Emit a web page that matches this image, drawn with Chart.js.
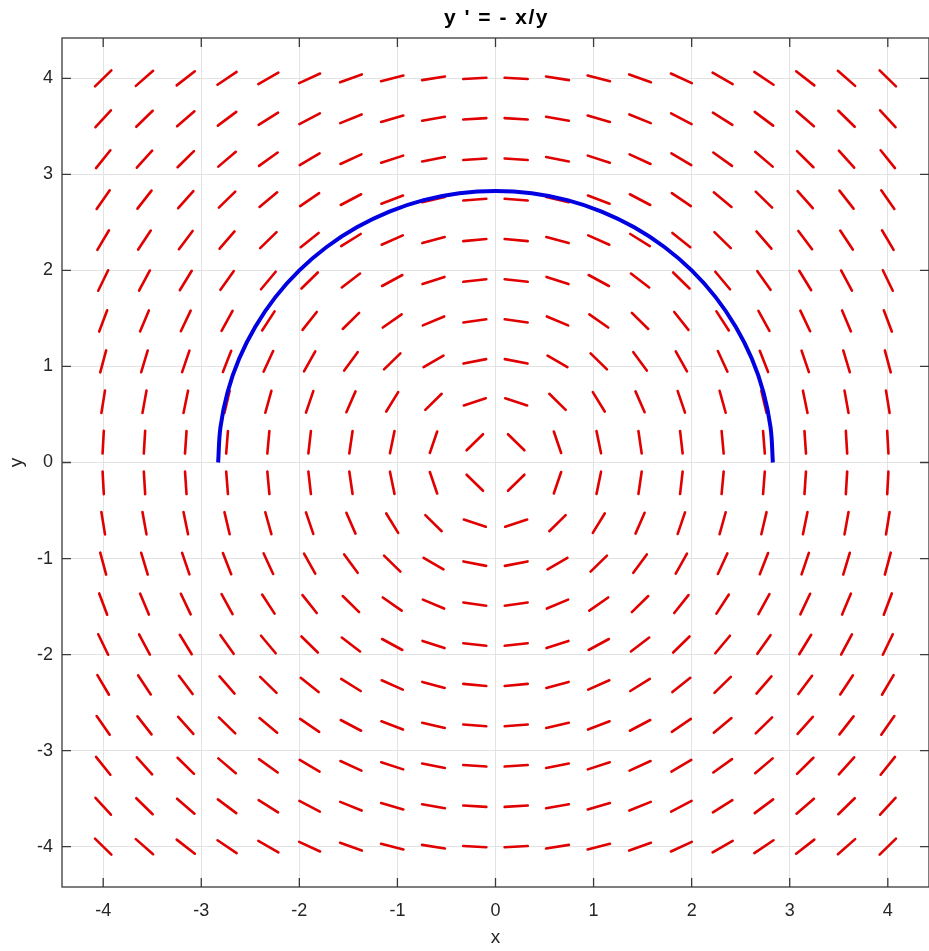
<!DOCTYPE html>
<html>
<head>
<meta charset="utf-8">
<script src="https://cdn.jsdelivr.net/npm/chart.js@4.4.1/dist/chart.umd.min.js"></script>
<style>
  html, body { margin: 0; padding: 0; background: #fff; }
  #wrap { width: 929px; height: 951px; }
</style>
</head>
<body>
<div id="wrap"><canvas id="c"></canvas></div>
<script>
// Campo de direcciones de y' = -x/y con una curva solución (semicircunferencia r = 2.83)
var TITLE = "y ' = - x/y";
var X_LABEL = "x";
var Y_LABEL = "y";

// Malla de 20 x 20 puntos donde se dibujan los segmentos
var GRID_X = [-4, -3.579, -3.158, -2.737, -2.316, -1.895, -1.474, -1.053, -0.632, -0.211,
              0.211, 0.632, 1.053, 1.474, 1.895, 2.316, 2.737, 3.158, 3.579, 4];
var GRID_Y = [-4, -3.579, -3.158, -2.737, -2.316, -1.895, -1.474, -1.053, -0.632, -0.211,
              0.211, 0.632, 1.053, 1.474, 1.895, 2.316, 2.737, 3.158, 3.579, 4];

// Curva solución (azul)
var CURVE_X = [-2.828, -2.804, -2.732, -2.613, -2.449, -2.244, -2.000, -1.722, -1.414, -1.082, -0.732, -0.369,
               0, 0.369, 0.732, 1.082, 1.414, 1.722, 2.000, 2.244, 2.449, 2.613, 2.732, 2.804, 2.828];
var CURVE_Y = [0, 0.369, 0.732, 1.082, 1.414, 1.722, 2.000, 2.244, 2.449, 2.613, 2.732, 2.804,
               2.828, 2.804, 2.732, 2.613, 2.449, 2.244, 2.000, 1.722, 1.414, 1.082, 0.732, 0.369, 0];

var TICKS = [-4, -3, -2, -1, 0, 1, 2, 3, 4];
var AXIS_MIN = -4.42;
var AXIS_MAX = 4.42;
var HALF = 0.118; // media longitud de cada segmento (unidades de datos)

function pendiente(x, y) { return -x / y; }

// Segmentos centrados en cada punto de la malla, separados por huecos (null)
var segmentos = [];
GRID_X.forEach(function (x) {
    GRID_Y.forEach(function (y) {
        var s = pendiente(x, y);
        var n = Math.sqrt(1 + s * s);
        var dx = HALF / n, dy = HALF * s / n;
        segmentos.push({ x: x - dx, y: y - dy });
        segmentos.push({ x: x + dx, y: y + dy });
        segmentos.push({ x: x, y: null });
    });
});

var curva = CURVE_X.map(function (x, i) { return { x: x, y: CURVE_Y[i] }; });

var FONT = "'Liberation Sans', Arial, Helvetica, sans-serif";
var TXT = "#262626";

// Marco, marcas hacia dentro, título y etiquetas de ejes (estilo MATLAB)
var marco = {
    id: "marco",
    afterDraw: function (chart) {
        var ctx = chart.ctx, a = chart.chartArea;
        var sx = chart.scales.x, sy = chart.scales.y;
        var L = 9;
        ctx.save();
        ctx.strokeStyle = "#3a3a3a";
        ctx.lineWidth = 1.3;
        ctx.strokeRect(a.left, a.top, a.right - a.left, a.bottom - a.top);
        ctx.beginPath();
        TICKS.forEach(function (t) {
            var px = sx.getPixelForValue(t);
            ctx.moveTo(px, a.bottom); ctx.lineTo(px, a.bottom - L);
            ctx.moveTo(px, a.top); ctx.lineTo(px, a.top + L);
            var py = sy.getPixelForValue(t);
            ctx.moveTo(a.left, py); ctx.lineTo(a.left + L, py);
            ctx.moveTo(a.right, py); ctx.lineTo(a.right - L, py);
        });
        ctx.stroke();

        var cx = (a.left + a.right) / 2;
        ctx.fillStyle = "#000";
        ctx.textAlign = "center";
        ctx.textBaseline = "alphabetic";
        ctx.font = "bold 21px " + FONT;
        ctx.letterSpacing = "1.5px";
        ctx.fillText(TITLE, cx + 1, 24);
        ctx.letterSpacing = "0px";

        ctx.textBaseline = "middle";
        ctx.fillStyle = TXT;
        ctx.font = "19px " + FONT;
        ctx.fillText(X_LABEL, cx, 938);
        ctx.translate(17, (a.top + a.bottom) / 2);
        ctx.rotate(-Math.PI / 2);
        ctx.fillText(Y_LABEL, 0, 0);
        ctx.restore();
    }
};

function eje(pos) {
    return {
        type: "linear",
        position: pos,
        min: AXIS_MIN,
        max: AXIS_MAX,
        border: { display: false },
        grid: { color: "#e3e3e3", lineWidth: 1, drawTicks: false },
        ticks: {
            stepSize: 1,
            includeBounds: false,
            color: TXT,
            font: { family: FONT, size: 18 },
            padding: pos === "bottom" ? 13 : 9,
            maxRotation: 0
        },
        afterFit: function (s) {
            if (pos === "bottom") s.height = 64; else s.width = 62;
        }
    };
}

new Chart(document.getElementById("c"), {
    type: "scatter",
    data: {
        datasets: [
            {
                label: "solución",
                data: curva,
                showLine: true,
                borderColor: "#0000e0",
                borderWidth: 4,
                tension: 0.4,
                pointRadius: 0,
                fill: false,
                order: 0
            },
            {
                label: "campo",
                data: segmentos,
                showLine: true,
                spanGaps: false,
                borderColor: "#e00000",
                borderWidth: 2.6,
                borderCapStyle: "round",
                pointRadius: 0,
                fill: false,
                order: 1
            }
        ]
    },
    options: {
        responsive: true,
        maintainAspectRatio: false,
        animation: false,
        layout: { padding: { top: 38, right: 0, left: 0, bottom: 0 } },
        plugins: {
            legend: { display: false },
            tooltip: { enabled: false },
            title: { display: false }
        },
        scales: { x: eje("bottom"), y: eje("left") }
    },
    plugins: [marco]
});
</script>
</body>
</html>
